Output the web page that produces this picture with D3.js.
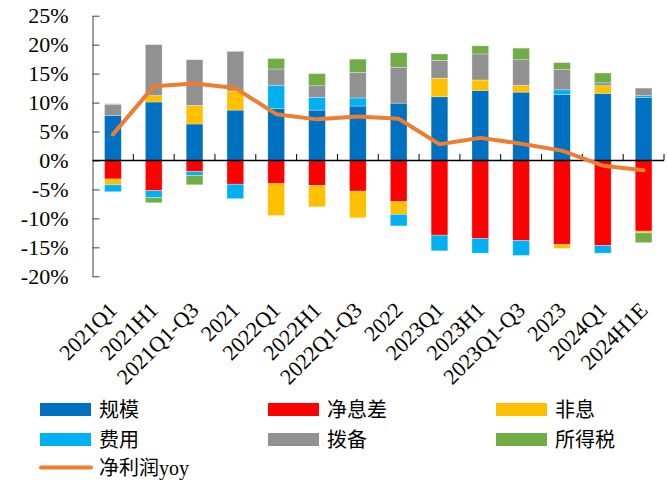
<!DOCTYPE html>
<html>
<head>
<meta charset="utf-8">
<script src="https://cdn.jsdelivr.net/npm/d3@7"></script>
<style>
  body { margin: 0; background: #fff; }
  text { font-family: "Liberation Serif", "Noto Sans CJK SC", serif; }
</style>
</head>
<body>
<script>
const svgWidth = 667;
const svgHeight = 484;

// data (percent)
const categories = ["2021Q1", "2021H1", "2021Q1-Q3", "2021", "2022Q1", "2022H1", "2022Q1-Q3", "2022",
                    "2023Q1", "2023H1", "2023Q1-Q3", "2023", "2024Q1", "2024H1E"];
const scale   = [7.8, 10.1, 6.3, 8.7, 9.0, 8.7, 9.4, 9.9, 11.0, 12.1, 11.8, 11.4, 11.6, 10.9];   // 规模
const nim     = [-3.2, -5.2, -1.9, -4.1, -4.0, -4.3, -5.3, -7.1, -12.9, -13.5, -13.8, -14.5, -14.7, -12.2]; // 净息差
const nonInt  = [-1.0, 1.1, 3.2, 3.3, -5.5, -3.7, -4.6, -2.2, 3.2, 1.8, 1.2, -0.7, 1.3, -0.3]; // 非息
const cost    = [-1.2, -1.2, -0.7, -2.5, 4.0, 2.2, 1.4, -2.0, -2.7, -2.5, -2.6, 0.8, -1.3, 0.3]; // 费用
const prov    = [1.9, 8.8, 7.9, 6.8, 2.8, 2.0, 4.4, 6.2, 3.1, 4.5, 4.4, 3.5, 0.5, 1.3];       // 拨备
const tax     = [0.1, -0.9, -1.6, 0.1, 1.8, 2.1, 2.3, 2.5, 1.1, 1.4, 2.0, 1.2, 1.7, -1.7];    // 所得税
const yoy     = [4.5, 12.8, 13.3, 12.5, 8.0, 7.1, 7.6, 7.2, 2.8, 3.9, 2.9, 1.7, -0.9, -1.7];  // 净利润yoy
const yTicks  = [-20, -15, -10, -5, 0, 5, 10, 15, 20, 25];

const seriesNames = ["规模", "净息差", "非息", "费用", "拨备", "所得税"];
const seriesData = [scale, nim, nonInt, cost, prov, tax];
const colors = ["#0070C0", "#FF0000", "#FFC000", "#00B0F0", "#919191", "#70AD47"];
const lineColor = "#ED7D31";

const svg = d3.select("body").append("svg")
              .attr("width", svgWidth)
              .attr("height", svgHeight);

const plotLeft = 92.5, plotRight = 664, plotTop = 15.7, plotBottom = 276.3;

var xScale = d3.scaleBand().domain(categories).range([plotLeft, plotRight])
               .paddingInner(0.59).paddingOuter(0.295);
var yScale = d3.scaleLinear().domain([-20, 25]).range([plotBottom, plotTop]);

// rows for the stack
var rows = categories.map(function(c, i) {
  let r = {cat: c};
  seriesNames.forEach(function(k, j) { r[k] = seriesData[j][i]; });
  return r;
});
var stack = d3.stack().keys(seriesNames)
              .order(d3.stackOrderNone)
              .offset(d3.stackOffsetDiverging); // positives up, negatives down
var layers = stack(rows);

// bars
svg.append("g").selectAll("g")
   .data(layers)
   .join("g")
   .attr("fill", function(d, i) { return colors[i]; })
   .selectAll("rect")
   .data(function(d) { return d; })
   .join("rect")
   .attr("x", function(d) { return xScale(d.data.cat); })
   .attr("width", xScale.bandwidth())
   .attr("y", function(d) { return yScale(Math.max(d[0], d[1])); })
   .attr("height", function(d) { return Math.abs(yScale(d[0]) - yScale(d[1])); })
   .attr("stroke", "rgba(255,255,255,0.5)")
   .attr("stroke-width", 0.6);

// y axis, ticks inside
var yAxis = d3.axisLeft(yScale).tickValues(yTicks)
              .tickSize(-7).tickSizeOuter(0).tickPadding(24)
              .tickFormat(function(d) { return d + "%"; });
var gy = svg.append("g")
            .attr("transform", "translate(" + plotLeft + ",0)")
            .call(yAxis);
gy.select(".domain").attr("stroke", "#404040");
gy.selectAll(".tick line").attr("stroke", "#404040");
gy.selectAll(".tick text")
  .attr("font-size", 22)
  .attr("font-family", "Liberation Serif")
  .attr("fill", "#000");

// zero line + category ticks
var y0 = yScale(0);
svg.append("line")
   .attr("x1", plotLeft).attr("x2", plotRight)
   .attr("y1", y0).attr("y2", y0)
   .attr("stroke", "#000").attr("stroke-width", 1.5);
for (let i = 1; i <= categories.length; i++) {
  let tx = plotLeft + i * xScale.step();
  svg.append("line")
     .attr("x1", tx).attr("x2", tx)
     .attr("y1", y0).attr("y2", y0 - 6.5)
     .attr("stroke", "#000").attr("stroke-width", 1);
}

// net profit yoy line
const line = d3.line()
               .curve(d3.curveLinear)
               .x(function(d, i) { return xScale(categories[i]) + xScale.bandwidth() / 2; })
               .y(function(d) { return yScale(d); });
svg.append("path")
   .attr("d", line(yoy))
   .attr("fill", "none")
   .attr("stroke", lineColor)
   .attr("stroke-width", 4)
   .attr("stroke-linecap", "round")
   .attr("stroke-linejoin", "round");

// rotated category labels
svg.append("g").selectAll("text")
   .data(categories)
   .join("text")
   .attr("transform", function(d) {
     return "translate(" + (xScale(d) + xScale.bandwidth() / 2) + ",306) rotate(-45)";
   })
   .attr("text-anchor", "end")
   .attr("dy", "0.35em")
   .attr("font-size", 22)
   .attr("fill", "#000")
   .text(function(d) { return d; });

// legend
const legendCols = [40, 268, 496];
const legendRows = [409.5, 439.5];
var legend = svg.append("g");
seriesNames.forEach(function(name, i) {
  let lx = legendCols[i % 3], ly = legendRows[Math.floor(i / 3)];
  legend.append("rect")
        .attr("x", lx).attr("y", ly - 6.5)
        .attr("width", 51).attr("height", 13)
        .attr("fill", colors[i]);
  legend.append("text")
        .attr("x", lx + 59).attr("y", ly)
        .attr("dy", "0.36em")
        .attr("font-size", 20)
        .attr("font-family", "Noto Sans CJK SC")
        .text(name);
});
legend.append("line")
      .attr("x1", 41).attr("x2", 91)
      .attr("y1", 467.5).attr("y2", 467.5)
      .attr("stroke", lineColor).attr("stroke-width", 4)
      .attr("stroke-linecap", "round");
var lt = legend.append("text")
               .attr("x", 99).attr("y", 467.5)
               .attr("dy", "0.36em")
               .attr("font-size", 20);
lt.append("tspan").attr("font-family", "Noto Sans CJK SC").text("净利润");
lt.append("tspan").attr("font-family", "Liberation Serif").text("yoy");
</script>
</body>
</html>
